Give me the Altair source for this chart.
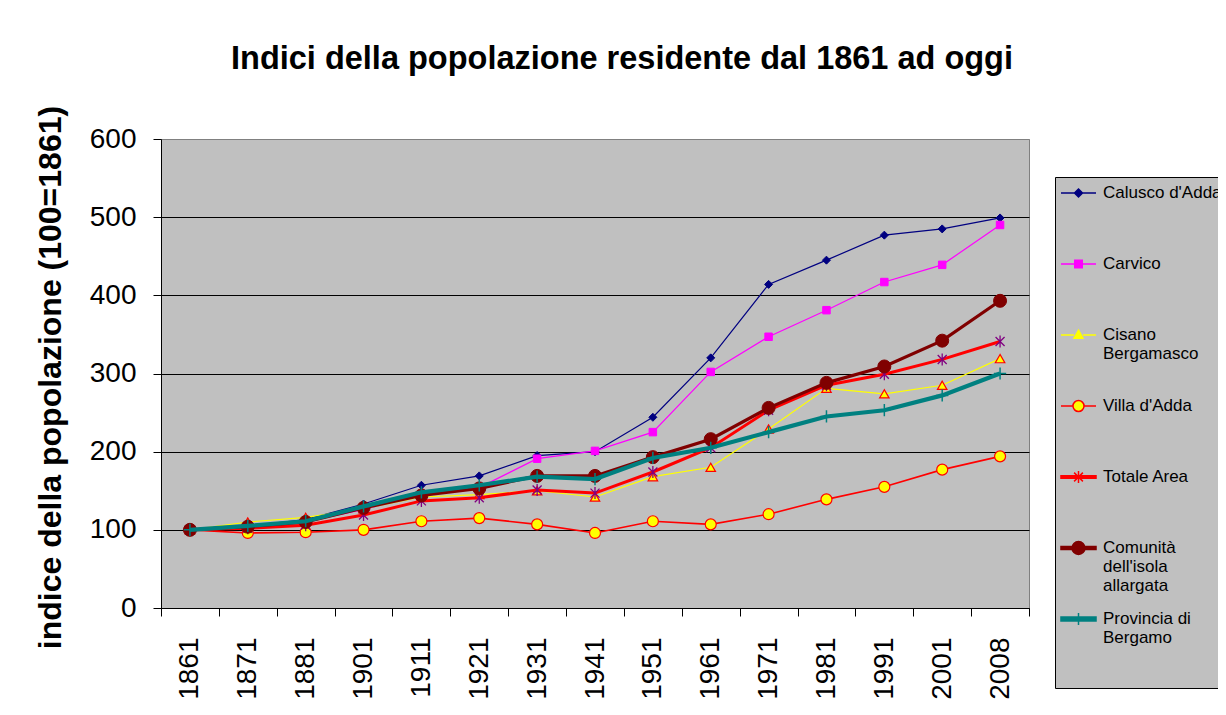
import altair as alt
import pandas as pd

# ---------------- data ----------------
years = ["1861", "1871", "1881", "1901", "1911", "1921", "1931", "1941",
         "1951", "1961", "1971", "1981", "1991", "2001", "2008"]

series = ["Calusco d'Adda", "Carvico", "Cisano\nBergamasco", "Villa d'Adda",
          "Totale Area", "Comunità\ndell'isola\nallargata", "Provincia di\nBergamo"]

calusco = [100, 105, 113, 133, 157, 169, 195, 200, 244, 320, 414, 445, 477, 485, 499]
carvico = [100, 104, 110, 126, 145, 154, 191, 201, 225, 302, 347, 381, 417, 439, 490]
cisano = [100, 110, 116, 127, 142, 145, 150, 142, 168, 180, 229, 281, 274, 285, 319]
villa = [100, 96, 97, 100, 111, 115, 107, 96, 111, 107, 120, 139, 155, 177, 194]
totale = [100, 102, 106, 119, 137, 141, 151, 147, 174, 205, 253, 285, 299, 318, 341]
comunita = [100, 104, 110, 128, 144, 153, 169, 169, 193, 216, 256, 288, 309, 342, 393]
provincia = [100, 105, 111, 130, 148, 157, 168, 165, 192, 205, 225, 245, 253, 272, 300]

rows = []
for name, vals in zip(series, [calusco, carvico, cisano, villa, totale, comunita, provincia]):
    for yr, v in zip(years, vals):
        rows.append({"anno": yr, "serie": name, "indice": v})
data = pd.DataFrame(rows)

# ---------------- styles ----------------
FONT = "Liberation Sans"
NAVY, MAGENTA, YELLOW, RED = "#000080", "#FF00FF", "#FFFF00", "#FF0000"
PURPLE, MAROON, TEAL = "#800080", "#800000", "#008080"

line_colors = [NAVY, MAGENTA, YELLOW, RED, RED, MAROON, TEAL]
line_widths = [1.2, 1.2, 1.2, 1.6, 3, 3.2, 4.2]

ASTER = "M0,-1V1M-0.75,-0.75L0.75,0.75M-0.75,0.75L0.75,-0.75"
PLUS = "M-1,0H1M0,-1V1"
marker_shapes = ["diamond", "square", "triangle-up", "circle", ASTER, "circle", PLUS]
marker_fills = [NAVY, MAGENTA, YELLOW, YELLOW, "transparent", MAROON, "transparent"]
marker_strokes = [NAVY, MAGENTA, RED, RED, PURPLE, MAROON, TEAL]
marker_sizes = [64, 56, 90, 121, 144, 169, 150]
marker_widths = [1, 1, 1.2, 1.2, 1.3, 1, 1.5]

# legend glyphs: unit = 8 px, line segment 35 px wide with the marker in the middle
# (thick lines are drawn as thin filled bars)
legend_shapes = [
    "M-2.19,0H2.19M0,-0.5L0.5,0L0,0.5L-0.5,0Z",
    "M-2.19,0H-0.47M0.47,0H2.19M-0.47,-0.47H0.47V0.47H-0.47Z",
    "M-2.19,0H-0.56M0.56,0H2.19M0,-0.6L0.56,0.4H-0.56Z",
    "M-2.19,0H-0.69M0.69,0H2.19M0.69,0A0.69,0.69 0 1,1 -0.69,0A0.69,0.69 0 1,1 0.69,0Z",
    "M-2.19,-0.16H2.19V0.16H-2.19ZM0,-0.75V0.75M-0.55,-0.55L0.55,0.55M-0.55,0.55L0.55,-0.55",
    "M-2.19,-0.18H2.19V0.18H-2.19ZM0.81,0A0.81,0.81 0 1,1 -0.81,0A0.81,0.81 0 1,1 0.81,0Z",
    "M-2.19,-0.24H2.19V0.24H-2.19ZM0,-0.75V0.75",
]
legend_fills = [NAVY, MAGENTA, YELLOW, YELLOW, RED, MAROON, TEAL]
legend_strokes = [NAVY, MAGENTA, YELLOW, RED, RED, MAROON, TEAL]

# ---------------- encodings ----------------
x_enc = alt.X(
    "anno:O", sort=years, bandPosition=0.5,
    scale=alt.Scale(type="band", paddingInner=0, paddingOuter=0),
    axis=alt.Axis(title=None, labelAngle=-90, labelFontSize=28, labelFont=FONT,
                  labelColor="black", labelPadding=21, tickSize=8, tickBand="extent",
                  tickColor="black", domainColor="black", grid=False),
)
y_enc = alt.Y(
    "indice:Q", scale=alt.Scale(domain=[0, 600], nice=False),
    axis=alt.Axis(
        title="indice della popolazione (100=1861)", values=[0, 100, 200, 300, 400, 500, 600],
        labelFontSize=28, labelFont=FONT, labelColor="black", labelPadding=17,
        tickSize=8, tickColor="black", domainColor="black",
        gridColor={"condition": {"test": "datum.value === 600", "value": "#808080"}, "value": "#000000"},
        gridWidth=1.2, titleFont=FONT, titleFontSize=32, titleFontWeight="bold",
        titleColor="black", titleX=-111, titleY=238, titleBaseline="middle", titleAlign="center",
    ),
)

leg = alt.Legend(
    title=" ", titleOrient="bottom", titleFontSize=2, titlePadding=33,
    orient="none", legendX=894, legendY=38,
    fillColor="#C0C0C0", strokeColor="#000000", padding=7,
    symbolSize=256, symbolOffset=7.5, symbolStrokeWidth=1.5,
    labelFont=FONT, labelFontSize=17, labelColor="black",
    labelOffset=15.5, labelLimit=400, labelExpr="split(datum.label, '\\n')",
    labelBaseline="middle", rowPadding=15, gridAlign="all",
)

layers = []
for i, name in enumerate(series):
    sel = alt.FieldEqualPredicate(field="serie", equal=name)
    base = alt.Chart(data).transform_filter(sel)
    layers.append(
        base.mark_line(color=line_colors[i], strokeWidth=line_widths[i]).encode(x=x_enc, y=y_enc)
    )
    layers.append(
        base.mark_point(
            filled=True, opacity=1, shape=marker_shapes[i], size=marker_sizes[i],
            fill=marker_fills[i], stroke=marker_strokes[i], strokeWidth=marker_widths[i],
        ).encode(x=x_enc, y=y_enc)
    )

key = alt.Chart(data).transform_filter("false").mark_point(opacity=1).encode(
    x=x_enc, y=y_enc,
    shape=alt.Shape("serie:N", scale=alt.Scale(domain=series, range=legend_shapes), legend=leg),
    fill=alt.Fill("serie:N", scale=alt.Scale(domain=series, range=legend_fills), legend=leg),
    stroke=alt.Stroke("serie:N", scale=alt.Scale(domain=series, range=legend_strokes), legend=leg),
)
layers.append(key)

chart = alt.layer(*layers).properties(
    width=868, height=469,
    autosize=alt.AutoSizeParams(type="none"),
    padding={"left": 153, "top": 131, "right": 189, "bottom": 99},
    title=alt.TitleParams(
        text="Indici della popolazione residente dal 1861 ad oggi",
        font=FONT, fontSize=32.5, fontWeight="bold", color="black",
        anchor="middle", dx=27, offset=30,
    ),
).configure(background="white").configure_view(fill="#C0C0C0", stroke="#808080")

chart.save("out.html", embed_options={"renderer": "svg", "actions": False})
